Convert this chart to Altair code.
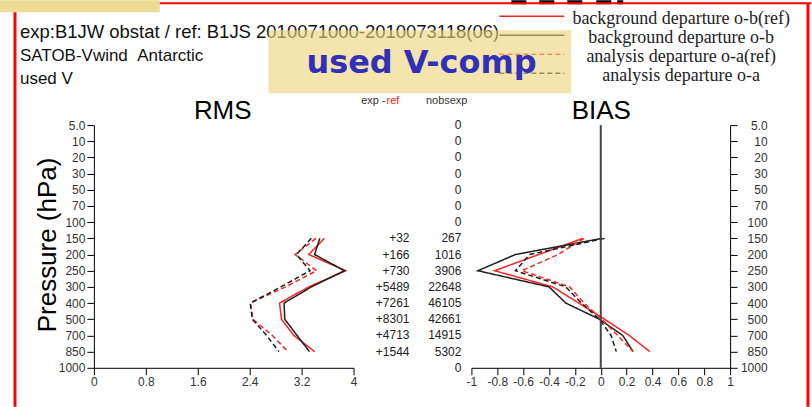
import altair as alt
import pandas as pd

# ---------------- data ----------------
levels = ["5.0", "10", "20", "30", "50", "70", "100", "150", "200", "250",
          "300", "400", "500", "700", "850", "1000"]
prof_levels = ["150", "200", "250", "300", "400", "500", "700", "850"]

series_names = [
    "background departure o-b(ref)",
    "background departure o-b",
    "analysis departure o-a(ref)",
    "analysis departure o-a",
]

rms_ob_ref = [3.55, 3.31, 3.88, 3.31, 2.86, 2.89, 3.08, 3.40]
rms_ob = [3.48, 3.40, 3.86, 3.35, 2.93, 2.94, 3.13, 3.32]
rms_oa_ref = [3.42, 3.10, 3.43, 2.95, 2.41, 2.45, 2.75, 2.99]
rms_oa = [3.35, 3.12, 3.33, 2.88, 2.41, 2.44, 2.66, 2.85]

bias_ob_ref = [-0.14, -0.48, -0.82, -0.37, -0.17, 0.03, 0.22, 0.38]
bias_ob = [0.01, -0.66, -0.95, -0.40, -0.27, -0.01, 0.17, 0.25]
bias_oa_ref = [-0.13, -0.33, -0.61, -0.24, -0.13, 0.01, 0.13, 0.25]
bias_oa = [0.03, -0.55, -0.66, -0.27, -0.15, -0.01, 0.08, 0.12]

nobsexp = ["0", "0", "0", "0", "0", "0", "0", "267", "1016", "3906",
           "22648", "46105", "42661", "14915", "5302", "0"]
exp_minus_ref = ["", "", "", "", "", "", "", "+32", "+166", "+730",
                 "+5489", "+7261", "+8301", "+4713", "+1544", ""]

rms_ticks = [0, 0.8, 1.6, 2.4, 3.2, 4]
bias_ticks = [-1, -0.8, -0.6, -0.4, -0.2, 0, 0.2, 0.4, 0.6, 0.8, 1]

rms_all = [rms_ob_ref, rms_ob, rms_oa_ref, rms_oa]
bias_all = [bias_ob_ref, bias_ob, bias_oa_ref, bias_oa]

rows = []
for s, rl, bl in zip(series_names, rms_all, bias_all):
    for i, (lev, rv, bv) in enumerate(zip(prof_levels, rl, bl)):
        rows.append({"series": s, "level": lev, "idx": i, "rms": rv, "bias": bv})
df = pd.DataFrame(rows)
df_cols = pd.DataFrame({"level": levels, "nobs": nobsexp, "diff": exp_minus_ref})

# ---------------- layout constants ----------------
OX, OY = 94, 125          # left panel origin in page pixels
WL, WR, H = 260, 259, 243
SANS = "Liberation Sans"
SERIF = "Liberation Serif"

color_scale = alt.Scale(domain=series_names,
                        range=["#ff2020", "#1e1e1e", "#ff2020", "#1e1e1e"])
dash_scale = alt.Scale(domain=series_names,
                       range=[[1, 0], [1, 0], [5, 3], [5, 3]])
color_enc = alt.Color("series:N", scale=color_scale, legend=None)
dash_enc = alt.StrokeDash("series:N", scale=dash_scale, legend=None)

one = alt.Data(values=[{}])


def rx(x):
    return x - OX


def ry(y):
    return y - OY


def yenc(orient):
    if orient == "left":
        ax = alt.Axis(orient="left", tickSize=7, labelPadding=2, title=None,
                      labelFontSize=12, labelColor="#333", domainColor="black",
                      tickColor="black", grid=False, zindex=1)
    else:
        ax = alt.Axis(orient="right", tickSize=7, labelPadding=30, labelAlign="right",
                      title=None, labelFontSize=12, labelColor="#333",
                      domainColor="black", tickColor="black", grid=False, zindex=1)
    return alt.Y("level:O", scale=alt.Scale(type="point", domain=levels, padding=0),
                 sort=levels, axis=ax)


def xaxis(vals):
    return alt.Axis(values=vals, labelExpr="'' + datum.value", tickSize=7, title=None,
                    grid=False, labelFontSize=12, labelColor="#333", domainColor="black",
                    tickColor="black", labelOverlap=False, labelFlush=False, zindex=1)


# ---------------- decorations (in left panel coordinates) ----------------
deco = []
deco.append(alt.Chart(one).mark_rect(fill="white").encode(
    x=alt.value(rx(0)), x2=alt.value(rx(812)), y=alt.value(ry(0)), y2=alt.value(ry(407))))
# top-left tan strip
deco.append(alt.Chart(one).mark_rect(fill="#efdc94").encode(
    x=alt.value(rx(0)), x2=alt.value(rx(160)), y=alt.value(ry(0)), y2=alt.value(ry(12))))
# small black blocks at top
for bxx, bw in [(512, 15), (540, 15), (568, 15), (597, 15), (618, 6)]:
    deco.append(alt.Chart(one).mark_rect(fill="black").encode(
        x=alt.value(rx(bxx)), x2=alt.value(rx(bxx + bw)), y=alt.value(ry(0)), y2=alt.value(ry(4))))
# red frame lines
deco.append(alt.Chart(one).mark_rule(color="#ff0000", strokeWidth=2).encode(
    x=alt.value(rx(160)), x2=alt.value(rx(812)), y=alt.value(ry(3))))
deco.append(alt.Chart(one).mark_rule(color="#ff0000", strokeWidth=3).encode(
    x=alt.value(rx(15)), y=alt.value(ry(12)), y2=alt.value(ry(407))))
deco.append(alt.Chart(one).mark_rule(color="#ff0000", strokeWidth=3).encode(
    x=alt.value(rx(809)), y=alt.value(ry(3)), y2=alt.value(ry(407))))

# header text
header_lines = [("exp:B1JW obstat / ref: B1JS 2010071000-2010073118(06)", 18.5),
                ("SATOB-Vwind\u00a0\u00a0Antarctic", 17),
                ("used V", 17)]
for k, (t, fs) in enumerate(header_lines):
    deco.append(alt.Chart(one).mark_text(text=t, align="left", baseline="alphabetic",
                                         font=SANS, fontSize=fs, color="#111").encode(
        x=alt.value(rx(20)), y=alt.value(ry(38 + 23 * k))))

# legend lines and labels
for i, name in enumerate(series_names):
    ly = 16 + 19 * i
    ldata = alt.Data(values=[{"series": name}])
    deco.append(alt.Chart(ldata).mark_rule(strokeWidth=1.5).encode(
        x=alt.value(rx(500)), x2=alt.value(rx(565)), y=alt.value(ry(ly)),
        color=color_enc, strokeDash=dash_enc))
    deco.append(alt.Chart(ldata).mark_text(align="center", baseline="middle", font=SERIF,
                                           fontSize=18, color="#222").encode(
        x=alt.value(rx(682)), y=alt.value(ry(ly + 3)), text="series:N"))

# semi-transparent title box
deco.append(alt.Chart(one).mark_rect(fill="#ebd57b", opacity=0.62).encode(
    x=alt.value(rx(269)), x2=alt.value(rx(572)), y=alt.value(ry(30)), y2=alt.value(ry(93))))
deco.append(alt.Chart(one).mark_text(text="used V-comp", align="center", baseline="alphabetic",
                                     font="DejaVu Sans", fontWeight="bold", fontSize=32,
                                     color="#3030b8").encode(
    x=alt.value(rx(422)), y=alt.value(ry(73))))

# panel titles and y title
deco.append(alt.Chart(one).mark_text(text="RMS", align="center", baseline="alphabetic",
                                     font=SANS, fontSize=26, color="black").encode(
    x=alt.value(rx(223)), y=alt.value(ry(119))))
deco.append(alt.Chart(one).mark_text(text="Pressure (hPa)", align="center", baseline="alphabetic",
                                     angle=270, font=SANS, fontSize=26, color="black").encode(
    x=alt.value(rx(56)), y=alt.value(ry(245))))

# ---------------- RMS panel ----------------
rms_lines = alt.Chart(df).mark_line(strokeWidth=1.5).encode(
    x=alt.X("rms:Q", scale=alt.Scale(domain=[0, 4], nice=False, zero=False),
            axis=xaxis(rms_ticks)),
    y=yenc("left"),
    color=color_enc,
    strokeDash=dash_enc,
    order="idx:Q",
)
left = alt.layer(*deco, rms_lines).properties(width=WL, height=H)

# ---------------- BIAS panel ----------------
RX0 = 472


def bx(x):
    return x - RX0


bias_x = alt.X("bias:Q", scale=alt.Scale(domain=[-1, 1], nice=False), axis=xaxis(bias_ticks))
bias_lines = alt.Chart(df).mark_line(strokeWidth=1.5).encode(
    x=bias_x,
    y=yenc("right"),
    color=color_enc,
    strokeDash=dash_enc,
    order="idx:Q",
)
zero_line = alt.Chart(one).mark_rule(color="#444", strokeWidth=2).encode(
    x=alt.datum(0, axis=xaxis(bias_ticks)), y=alt.value(0), y2=alt.value(H))
nobs_text = alt.Chart(df_cols).mark_text(align="right", baseline="middle", font=SANS,
                                         fontSize=12, color="#222").encode(
    x=alt.value(bx(462)), y=yenc("right"), text="nobs:N")
diff_text = alt.Chart(df_cols).mark_text(align="right", baseline="middle", font=SANS,
                                         fontSize=12, color="#222").encode(
    x=alt.value(bx(410)), y=yenc("right"), text="diff:N")
hdr1 = alt.Chart(one).mark_text(text="exp -", align="right", baseline="middle", font=SANS,
                                fontSize=11, color="#333").encode(
    x=alt.value(bx(386)), y=alt.value(101 - OY))
hdr2 = alt.Chart(one).mark_text(text="ref", align="left", baseline="middle", font=SANS,
                                fontSize=11, color="#ff2020").encode(
    x=alt.value(bx(387)), y=alt.value(101 - OY))
hdr3 = alt.Chart(one).mark_text(text="nobsexp", align="right", baseline="middle", font=SANS,
                                fontSize=11, color="#333").encode(
    x=alt.value(bx(468)), y=alt.value(101 - OY))
bias_title = alt.Chart(one).mark_text(text="BIAS", align="center", baseline="alphabetic",
                                      font=SANS, fontSize=26, color="black").encode(
    x=alt.value(bx(602)), y=alt.value(119 - OY))

right = alt.layer(bias_lines, zero_line, nobs_text, diff_text, hdr1, hdr2, hdr3,
                  bias_title).properties(width=WR, height=H)

chart = alt.hconcat(left, right, spacing=RX0 - OX - WL, bounds="flush").properties(
    padding=0, background="white"
).configure_view(stroke=None).configure_axis(labelFont=SANS)

chart.save("out.html", embed_options={"renderer": "svg", "actions": False})
